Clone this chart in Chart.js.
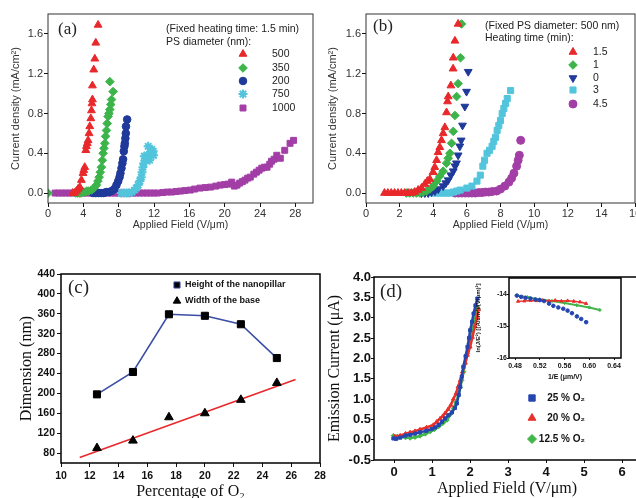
<!DOCTYPE html>
<html>
<head>
<meta charset="utf-8">
<script src="https://cdn.jsdelivr.net/npm/chart.js@4/dist/chart.umd.min.js"></script>
<style>
html, body { margin: 0; padding: 0; background: #fff; overflow: hidden; }
#wrap { position: relative; width: 636px; height: 498px; overflow: hidden; background: #fff; }
#wrap canvas { position: absolute; left: 0; top: 0; }
</style>
</head>
<body>
<div id="wrap">
  <canvas id="ca" width="700" height="520"></canvas>
  <canvas id="cb" width="700" height="520"></canvas>
  <canvas id="cc" width="700" height="520"></canvas>
  <canvas id="cd" width="700" height="520"></canvas>
  <canvas id="ci" width="700" height="520"></canvas>
</div>
<script>
// tick labels
const abTicksY = [0, 0.4, 0.8, 1.2, 1.6]
const aTicksX = [0, 4, 8, 12, 16, 20, 24, 28]
const bTicksX = [0, 2, 4, 6, 8, 10, 12, 14, 16]
const cTicksX = [10, 12, 14, 16, 18, 20, 22, 24, 26, 28]
const cTicksY = [80, 120, 160, 200, 240, 280, 320, 360, 400, 440]
const dTicksX = [0, 1, 2, 3, 4, 5, 6]
const dTicksY = [-0.5, 0, 0.5, 1, 1.5, 2, 2.5, 3, 3.5, 4]
const insetTicksX = [0.48, 0.52, 0.56, 0.6, 0.64]
const insetTicksY = [-16, -15, -14]

// (a) fixed heating time 1.5 min, PS diameter (nm)
const aLabels = ['500', '350', '200', '750', '1000']
const a500 = [[2.8, 0], [3.0, 0], [3.22, 0.02], [3.4, 0.04], [3.6, 0.06], [3.78, 0.13], [3.97, 0.2], [4.05, 0.23], [4.16, 0.26],
  [4.28, 0.43], [4.35, 0.47], [4.45, 0.5], [4.54, 0.53], [4.65, 0.6], [4.73, 0.67], [4.85, 0.75], [4.92, 0.83], [4.98, 0.9],
  [5.03, 0.94], [5.03, 1.08], [5.18, 1.24], [5.3, 1.35], [5.41, 1.51], [5.67, 1.69]]
const a350 = [[0, 0], [3.15, 0], [3.35, 0], [3.55, 0], [3.75, 0], [4.0, 0.01], [4.2, 0.01], [4.4, 0.02], [4.6, 0.02], [4.92, 0.03],
  [5.2, 0.05], [5.48, 0.08], [5.65, 0.12], [5.79, 0.16], [5.92, 0.21], [6.05, 0.26], [6.15, 0.33], [6.24, 0.4], [6.33, 0.45],
  [6.43, 0.5], [6.52, 0.57], [6.62, 0.63], [6.7, 0.7], [6.8, 0.77], [6.9, 0.8], [7.0, 0.84], [7.1, 0.89], [7.19, 0.94],
  [7.37, 1.02], [7.0, 1.12]]
const a200 = [[5.1, 0], [5.4, 0], [5.7, 0], [6.0, 0], [6.3, 0], [6.6, 0.01], [6.9, 0.01], [7.2, 0.02], [7.5, 0.04], [7.75, 0.08],
  [7.95, 0.12], [8.1, 0.16], [8.2, 0.2], [8.32, 0.25], [8.42, 0.3], [8.5, 0.34], [8.58, 0.42], [8.65, 0.47], [8.7, 0.5],
  [8.76, 0.55], [8.81, 0.6], [8.83, 0.67], [8.96, 0.74]]
const a750 = [[8.3, 0], [8.6, 0], [8.9, 0], [9.2, 0], [9.5, 0.01], [9.8, 0.03], [10.0, 0.05], [10.2, 0.08], [10.4, 0.12],
  [10.56, 0.16], [10.65, 0.21], [10.75, 0.26], [10.85, 0.3], [10.9, 0.37], [11.1, 0.33], [11.2, 0.38], [11.34, 0.47],
  [11.5, 0.33], [11.6, 0.4], [11.75, 0.44], [11.9, 0.42], [11.95, 0.38]]
const a1000 = [[0.8, 0], [1.2, 0], [1.6, 0], [2.0, 0], [2.4, 0], [2.8, 0], [3.2, 0], [3.6, 0], [4.0, 0], [4.4, 0], [4.8, 0],
  [5.2, 0], [5.6, 0], [6.0, 0], [6.4, 0], [6.8, 0], [7.2, 0], [7.6, 0], [8.0, 0], [8.4, 0], [8.8, 0], [9.2, 0], [9.6, 0],
  [10.0, 0], [10.4, 0], [10.8, 0], [11.2, 0], [11.6, 0], [12.0, 0], [12.4, 0], [13.0, 0.005], [13.5, 0.01], [14.0, 0.01],
  [14.5, 0.015], [15.0, 0.02], [15.5, 0.025], [16.1, 0.03], [16.6, 0.04], [17.2, 0.05], [17.8, 0.055], [18.4, 0.06],
  [19.0, 0.07], [19.5, 0.08], [20.0, 0.085], [20.4, 0.09], [20.8, 0.11], [21.1, 0.07], [21.4, 0.08], [21.7, 0.1],
  [22.0, 0.115], [22.3, 0.13], [22.6, 0.15], [22.9, 0.16], [23.3, 0.19], [23.6, 0.21], [23.9, 0.23], [24.2, 0.25],
  [24.5, 0.26], [24.8, 0.26], [25.1, 0.29], [25.3, 0.32], [25.6, 0.34], [25.9, 0.38], [26.3, 0.35], [26.8, 0.43],
  [27.4, 0.5], [27.8, 0.53]]

// (b) fixed PS diameter 500 nm, heating time (min)
const bLabels = ['1.5', '1', '0', '3', '4.5']
const b15 = [[1.1, 0], [1.3, 0], [1.5, 0], [1.7, 0], [1.9, 0], [2.1, 0], [2.3, 0], [2.5, 0], [2.7, 0], [2.9, 0.01], [3.1, 0.03],
  [3.3, 0.05], [3.5, 0.09], [3.65, 0.12], [3.8, 0.14], [3.99, 0.21], [4.09, 0.26], [4.2, 0.33], [4.29, 0.41], [4.39, 0.46],
  [4.49, 0.53], [4.59, 0.6], [4.69, 0.66], [4.79, 0.81], [4.85, 0.92], [4.89, 0.97], [5.05, 1.08], [5.18, 1.25],
  [5.19, 1.36], [5.29, 1.53], [5.48, 1.7]]
const b1 = [[2.4, 0], [2.6, 0], [2.8, 0], [3.0, 0], [3.2, 0], [3.4, 0.01], [3.6, 0.02], [3.8, 0.04], [4.0, 0.07], [4.2, 0.12],
  [4.39, 0.17], [4.59, 0.22], [4.79, 0.3], [4.89, 0.35], [4.99, 0.4], [5.09, 0.5], [5.19, 0.62], [5.29, 0.78], [5.39, 0.97],
  [5.48, 1.1], [5.62, 1.36], [5.68, 1.7]]
const b0 = [[3.3, 0], [3.5, 0], [3.7, 0], [3.9, 0.01], [4.1, 0.02], [4.3, 0.04], [4.59, 0.07], [4.75, 0.1], [4.89, 0.13],
  [5.05, 0.18], [5.19, 0.22], [5.3, 0.27], [5.38, 0.3], [5.48, 0.38], [5.58, 0.47], [5.66, 0.53], [5.74, 0.68],
  [5.88, 0.87], [5.98, 1.02], [6.08, 1.22]]
const b3 = [[4.0, 0], [4.2, 0], [4.4, 0], [4.6, 0], [4.8, 0], [5.0, 0], [5.2, 0.01], [5.4, 0.02], [5.6, 0.03], [6.0, 0.05],
  [6.3, 0.07], [6.6, 0.12], [6.8, 0.18], [6.95, 0.27], [7.05, 0.33], [7.2, 0.4], [7.35, 0.43], [7.5, 0.47], [7.6, 0.52],
  [7.7, 0.56], [7.8, 0.63], [7.9, 0.68], [8.0, 0.73], [8.1, 0.8], [8.2, 0.85], [8.3, 0.9], [8.4, 0.95], [8.6, 1.03]]
const b45 = [[5.3, 0], [5.5, 0], [5.7, 0], [5.9, 0], [6.1, 0], [6.3, 0], [6.5, 0], [6.7, 0.005], [6.9, 0.005], [7.1, 0.01],
  [7.3, 0.01], [7.5, 0.015], [7.77, 0.02], [8.0, 0.04], [8.26, 0.07], [8.5, 0.11], [8.66, 0.15], [8.8, 0.2], [8.96, 0.27],
  [9.05, 0.33], [9.12, 0.38], [9.2, 0.53]]

// (c) dimension vs percentage of O2
const cPercent = [12.5, 15, 17.5, 20, 22.5, 25]
const cHeight = [198, 243, 359, 356, 339, 271]
const cWidth = [90, 105, 152, 160, 187, 221]
const cFitX = [11.3, 26.3]
const cFitY = [71, 228]

// (d) emission current vs applied field
const d25 = [[-0.02, 0.03], [0.05, 0.02], [0.16, 0.05], [0.3, 0.1], [0.42, 0.12], [0.55, 0.15], [0.68, 0.18], [0.85, 0.22],
  [0.99, 0.26], [1.08, 0.3], [1.17, 0.36], [1.26, 0.44], [1.34, 0.52], [1.43, 0.6], [1.52, 0.67], [1.6, 0.78], [1.65, 0.89],
  [1.7, 1.1], [1.74, 1.3], [1.78, 1.55], [1.82, 1.79], [1.88, 2.05], [1.93, 2.28], [1.97, 2.5], [2.0, 2.69], [2.05, 2.9],
  [2.09, 3.1], [2.14, 3.3], [2.19, 3.47]]
const d20 = [[0.02, 0.08], [0.16, 0.1], [0.3, 0.15], [0.42, 0.18], [0.55, 0.21], [0.68, 0.25], [0.85, 0.3], [1.03, 0.36],
  [1.12, 0.44], [1.21, 0.52], [1.28, 0.58], [1.34, 0.65], [1.42, 0.75], [1.49, 0.85], [1.56, 1.0], [1.63, 1.14], [1.68, 1.3],
  [1.74, 1.46], [1.8, 1.67], [1.87, 1.88], [1.93, 2.08], [2.0, 2.28], [2.06, 2.52], [2.13, 2.79], [2.18, 3.0], [2.22, 3.2]]
const d125 = [[-0.02, 0.1], [0.08, 0.08], [0.16, 0.07], [0.3, 0.05], [0.42, 0.04], [0.55, 0.06], [0.68, 0.09], [0.82, 0.14],
  [0.95, 0.2], [1.06, 0.25], [1.17, 0.32], [1.28, 0.4], [1.39, 0.48], [1.48, 0.62], [1.56, 0.77], [1.63, 0.92], [1.69, 1.09],
  [1.74, 1.28], [1.78, 1.46], [1.83, 1.67], [1.87, 1.88], [1.93, 2.12], [1.98, 2.36], [2.04, 2.62], [2.09, 2.87],
  [2.14, 3.07], [2.18, 3.27]]
const dLabels = ['25 % O\u2082', '20 % O\u2082', '12.5 % O\u2082']

// inset: F-N plot
const i25 = [[0.483, -14.05], [0.49, -14.09], [0.497, -14.12], [0.505, -14.14], [0.513, -14.17], [0.52, -14.19],
  [0.527, -14.22], [0.535, -14.3], [0.542, -14.37], [0.55, -14.42], [0.558, -14.46], [0.565, -14.52], [0.572, -14.6],
  [0.58, -14.7], [0.587, -14.78], [0.595, -14.88]]
const i20 = [[0.485, -14.23], [0.495, -14.22], [0.505, -14.2], [0.515, -14.21], [0.525, -14.2], [0.535, -14.22],
  [0.545, -14.2], [0.555, -14.22], [0.565, -14.21], [0.575, -14.23], [0.585, -14.25], [0.595, -14.3]]
const i125 = [[0.483, -14.05], [0.5, -14.1], [0.52, -14.17], [0.54, -14.22], [0.56, -14.28], [0.58, -14.35], [0.6, -14.42],
  [0.617, -14.5]]

const W = 700, H = 520
const RED = '#e8282b', GREEN = '#3cb44a', BLUE = '#1f3a9a', CYAN = '#52c5dc', PURPLE = '#a23ea6'
const SANS = '"Liberation Sans", Arial, sans-serif', SERIF = '"Liberation Serif", "Times New Roman", serif'

const pts = arr => arr.map(p => ({ x: p[0], y: p[1] }))
const zip = (xs, ys) => xs.map((x, i) => ({ x, y: ys[i] }))

function marks(data, color, style, r, extra) {
  return Object.assign({
    data, showLine: false, pointStyle: style, pointRadius: r, pointBorderWidth: 1,
    backgroundColor: color, borderColor: color
  }, extra || {})
}

// draws free text and legend keys at page coordinates
const notes = {
  id: 'notes',
  afterDraw(chart, args, o) {
    const ctx = chart.ctx
    ctx.save()
    ctx.textBaseline = 'middle'
    for (const t of o.texts || []) {
      ctx.font = t.font
      ctx.fillStyle = t.color || '#222'
      ctx.textAlign = t.align || 'left'
      ctx.fillText(t.text, t.x, t.y)
    }
    for (const k of o.keys || []) {
      const ds = chart.data.datasets[k.ds]
      ctx.fillStyle = ds.backgroundColor
      ctx.strokeStyle = ds.borderColor
      ctx.lineWidth = ds.pointBorderWidth || 1
      Chart.helpers.drawPoint(ctx, {
        pointStyle: ds.pointStyle, radius: k.r || ds.pointRadius,
        rotation: ds.pointRotation || 0, borderWidth: ctx.lineWidth
      }, k.x, k.y)
    }
    ctx.restore()
  }
}

const frame = {
  id: 'frame',
  beforeDraw(chart, args, o) {
    if (!o.fill) return
    const a = chart.chartArea
    chart.ctx.fillStyle = o.fill
    chart.ctx.fillRect(a.left, a.top, a.right - a.left, a.bottom - a.top)
  },
  afterDraw(chart, args, o) {
    const a = chart.chartArea, ctx = chart.ctx
    ctx.save()
    ctx.strokeStyle = o.color || '#000'
    ctx.lineWidth = o.width || 1
    ctx.strokeRect(a.left, a.top, a.right - a.left, a.bottom - a.top)
    ctx.restore()
  }
}
Chart.register(notes, frame)

function axis(o, pos) {
  return {
    type: 'linear', position: pos, min: o.min, max: o.max,
    afterBuildTicks: s => { s.ticks = o.ticks.map(v => ({ value: v })) },
    afterFit: s => { if (pos === 'left') s.width = o.size; else s.height = o.size },
    grid: { drawOnChartArea: false, drawTicks: true, tickLength: o.tl || 4, color: '#111', lineWidth: 1 },
    border: { display: false },
    ticks: { font: o.font, color: o.color || '#333', padding: o.pad, autoSkip: false, maxRotation: 0, callback: o.fmt },
    title: { display: true, text: o.title, font: o.tfont, color: o.color || '#333', padding: 0 }
  }
}

function plot(id, box, x, y, datasets, notesOpt, frameOpt) {
  return new Chart(document.getElementById(id), {
    type: 'scatter',
    data: { datasets },
    options: {
      responsive: false, animation: false, events: [],
      layout: { padding: { left: box[0] - y.size, top: box[1], right: W - box[2], bottom: H - box[3] - x.size } },
      scales: { x: axis(x, 'bottom'), y: axis(y, 'left') },
      plugins: { legend: { display: false }, tooltip: { enabled: false }, notes: notesOpt, frame: frameOpt }
    }
  })
}

const f1 = v => v.toFixed(1)
const f0 = v => String(v)
const tickSans = { family: SANS, size: 11 }
const legSans = '10.5px ' + SANS

// (a)
plot('ca', [48, 14, 313, 203],
  { min: 0, max: 30, ticks: aTicksX, size: 28.5, pad: 0, fmt: f0, font: tickSans,
    title: 'Applied Field (V/\u03bcm)', tfont: { family: SANS, size: 10.5 } },
  { min: -0.1, max: 1.8, ticks: abTicksY, size: 38.6, pad: 1, fmt: f1, font: tickSans,
    title: 'Current density (mA/cm\u00b2)', tfont: { family: SANS, size: 11 } },
  [
    marks(pts(a500), RED, 'triangle', 4.5),
    marks(pts(a350), GREEN, 'rectRot', 4.3),
    marks(pts(a200), BLUE, 'circle', 3.8),
    marks(pts(a750), CYAN, 'star', 4.5, { pointBorderWidth: 2 }),
    marks(pts(a1000), PURPLE, 'rect', 4.2)
  ],
  {
    texts: [
      { text: '(a)', x: 58, y: 30, font: '17px ' + SERIF },
      { text: '(Fixed heating time: 1.5 min)', x: 166, y: 29, font: legSans },
      { text: 'PS diameter (nm):', x: 166, y: 42, font: legSans }
    ].concat(aLabels.map((t, i) => ({ text: t, x: 272, y: [54, 68, 81, 94, 108][i], font: legSans }))),
    keys: [0, 1, 2, 3, 4].map(i => ({ ds: i, x: 243, y: [54, 68, 81, 94, 108][i] }))
  },
  { color: '#333', width: 1 })

// (b)
plot('cb', [366, 14, 635, 203],
  { min: 0, max: 16, ticks: bTicksX, size: 28.5, pad: 0, fmt: f0, font: tickSans,
    title: 'Applied Field (V/\u03bcm)', tfont: { family: SANS, size: 10.5 } },
  { min: -0.1, max: 1.8, ticks: abTicksY, size: 39.6, pad: 1, fmt: f1, font: tickSans,
    title: 'Current density (mA/cm\u00b2)', tfont: { family: SANS, size: 11 } },
  [
    marks(pts(b15), RED, 'triangle', 4.5),
    marks(pts(b1), GREEN, 'rectRot', 4.3),
    marks(pts(b0), BLUE, 'triangle', 4.5, { pointRotation: 180 }),
    marks(pts(b3), CYAN, 'rect', 4.3),
    marks(pts(b45), PURPLE, 'circle', 4)
  ],
  {
    texts: [
      { text: '(b)', x: 373, y: 27, font: '17px ' + SERIF },
      { text: '(Fixed PS diameter: 500 nm)', x: 485, y: 26, font: legSans },
      { text: 'Heating time (min):', x: 485, y: 38, font: legSans }
    ].concat(bLabels.map((t, i) => ({ text: t, x: 593, y: [52, 65, 78, 90, 104][i], font: legSans }))),
    keys: [0, 1, 2, 3, 4].map(i => ({ ds: i, x: 573, y: [52, 65, 78, 90, 104][i] }))
  },
  { color: '#333', width: 1 })

// (c)
const boldC = { family: SANS, size: 10.5, weight: 'bold' }
plot('cc', [61, 274, 320, 463],
  { min: 10, max: 28, ticks: cTicksX, size: 38.3, pad: 3, fmt: f0, font: boldC, color: '#111',
    title: 'Percentage of O\u2082', tfont: { family: SERIF, size: 16 } },
  { min: 60, max: 440, ticks: cTicksY, size: 43.6, pad: 2, fmt: f0, font: boldC, color: '#111',
    title: 'Dimension (nm)', tfont: { family: SERIF, size: 16 } },
  [
    marks(zip(cPercent, cHeight), '#000', 'rect', 5, { showLine: true, borderColor: '#3b4ea3', borderWidth: 1.6, pointBorderColor: '#000' }),
    marks(zip(cPercent, cWidth), '#000', 'triangle', 5),
    marks(zip(cFitX, cFitY), RED, 'circle', 0, { showLine: true, borderWidth: 1.6 })
  ],
  {
    texts: [
      { text: '(c)', x: 68, y: 288, font: '19px ' + SERIF },
      { text: 'Height of the nanopillar', x: 185, y: 285, font: 'bold 9px ' + SANS, color: '#111' },
      { text: 'Width of the base', x: 185, y: 301, font: 'bold 9px ' + SANS, color: '#111' }
    ],
    keys: [{ ds: 0, x: 177, y: 285, r: 4.3 }, { ds: 1, x: 177, y: 301, r: 4.3 }]
  },
  { color: '#000', width: 1.5 })

// (d)
const boldD = { family: SANS, size: 13, weight: 'bold' }
const DBLUE = '#2546b0', DRED = '#e8302a', DGREEN = '#41b649'
plot('cd', [374, 277, 640, 460],
  { min: -0.53, max: 6.47, ticks: dTicksX, size: 37.9, pad: 2, fmt: f0, font: boldD, color: '#111', tl: 3,
    title: 'Applied Field (V/\u03bcm)', tfont: { family: SERIF, size: 16 } },
  { min: -0.5, max: 4, ticks: dTicksY, size: 48.9, pad: 0, fmt: f1, font: boldD, color: '#111', tl: 3,
    title: 'Emission Current (\u03bcA)', tfont: { family: SERIF, size: 16 } },
  [
    marks(pts(d25), DBLUE, 'rect', 2.2, { showLine: true, borderWidth: 2.5 }),
    marks(pts(d20), DRED, 'triangle', 2.2, { showLine: true, borderWidth: 2.5 }),
    marks(pts(d125), DGREEN, 'rectRot', 2.2, { showLine: true, borderWidth: 2.5 })
  ],
  {
    texts: [{ text: '(d)', x: 380, y: 292, font: '19px ' + SERIF }]
      .concat(dLabels.map((t, i) => ({ text: t, x: 585, y: [398, 418, 439][i], font: 'bold 10px ' + SANS, color: '#111', align: 'right' }))),
    keys: [0, 1, 2].map(i => ({ ds: i, x: 532, y: [398, 418, 439][i], r: 4.5 }))
  },
  { color: '#000', width: 1.5 })

// inset of (d)
const boldI = { family: SANS, size: 7, weight: 'bold' }
plot('ci', [509, 278, 621, 358],
  { min: 0.4703, max: 0.6513, ticks: insetTicksX, size: 22.9, pad: 1.5, fmt: v => v.toFixed(2), font: boldI, color: '#111', tl: 2,
    title: '1/E (\u03bcm/V)', tfont: { family: SANS, size: 7, weight: 'bold' } },
  { min: -16, max: -13.5, ticks: insetTicksY, size: 33.9, pad: 0, fmt: f0, font: boldI, color: '#111', tl: 2,
    title: 'ln(J/E\u00b2) [(A/cm\u00b2)/(V/\u03bcm)\u00b2]', tfont: { family: SANS, size: 6, weight: 'bold' } },
  [
    marks(pts(i25), DBLUE, 'circle', 1.8),
    marks(pts(i20), DRED, 'triangle', 1.8, { showLine: true, borderWidth: 1.5 }),
    marks(pts(i125), DGREEN, 'rectRot', 1.6, { showLine: true, borderWidth: 2 })
  ],
  {},
  { color: '#000', width: 1.5, fill: '#fff' })
</script>
</body>
</html>
